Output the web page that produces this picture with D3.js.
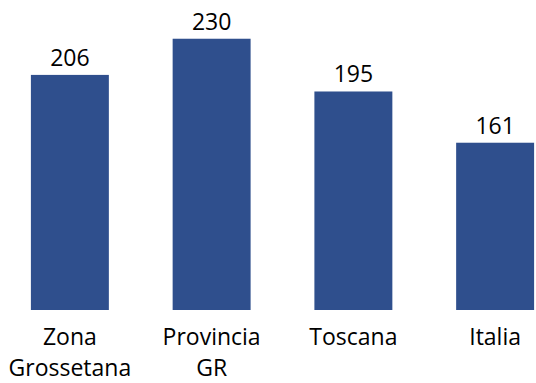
<!DOCTYPE html>
<html><head><meta charset="utf-8">
<script src="https://cdn.jsdelivr.net/npm/d3@7"></script>
<style>
html,body{margin:0;padding:0;background:#fff;}
svg{display:block;}
.val,.cat{font-family:"Open Sans",sans-serif;}
</style>
</head><body>
<svg id="chart" width="536" height="383"></svg>
<script>
const categories = [["Zona","Grossetana"],["Provincia","GR"],["Toscana"],["Italia"]];
const values = [206, 230, 195, 161];
const yDomain = [50, 250];

const svg = d3.select("#chart");
const x = d3.scaleBand().domain(d3.range(categories.length)).range([-1, 566]).paddingInner(0.45).paddingOuter(0.225);
const y = d3.scaleLinear().domain(yDomain).range([310, 8.6]);

svg.selectAll("rect.bar").data(values).join("rect")
  .attr("class","bar")
  .attr("x",(d,i)=>x(i)).attr("width",x.bandwidth())
  .attr("y",d=>y(d)).attr("height",d=>y(yDomain[0])-y(d))
  .attr("fill","#2F4F8D");

svg.selectAll("text.val").data(values).join("text")
  .attr("class","val")
  .attr("x",(d,i)=>x(i)+x.bandwidth()/2)
  .attr("y",d=>y(d)-9)
  .attr("text-anchor","middle")
  .attr("font-size",23)
  .attr("fill","#000")
  .text(d=>d);

const g = svg.selectAll("text.cat").data(categories).join("text")
  .attr("class","cat")
  .attr("x",(d,i)=>x(i)+x.bandwidth()/2)
  .attr("y",345)
  .attr("text-anchor","middle")
  .attr("font-size",23)
  .attr("fill","#000");
g.selectAll("tspan").data(d=>d).join("tspan")
  .attr("x",function(){return d3.select(this.parentNode).attr("x");})
  .attr("dy",(d,i)=>i===0?0:31)
  .text(d=>d);
</script>
</body></html>
